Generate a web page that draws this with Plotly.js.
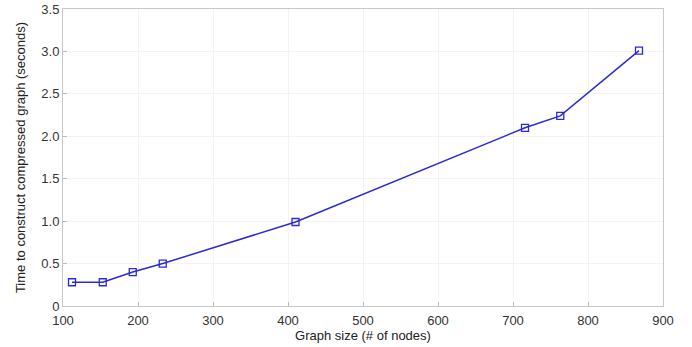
<!DOCTYPE html>
<html>
<head>
<meta charset="utf-8">
<script src="https://cdn.plot.ly/plotly-3.0.1.min.js"></script>
<style>html,body{margin:0;padding:0;background:#fff;}#chart{width:692px;height:347px;}</style>
</head>
<body>
<div id="chart"></div>
<script>
const graphSize = [112, 153, 193, 233, 410, 716, 763, 868];
const timeSeconds = [0.28, 0.28, 0.40, 0.50, 0.99, 2.10, 2.24, 3.01];
const xTickVals = [100, 200, 300, 400, 500, 600, 700, 800, 900];
const yTickVals = [0, 0.5, 1.0, 1.5, 2.0, 2.5, 3.0, 3.5];
const yTickText = ["0", "0.5", "1.0", "1.5", "2.0", "2.5", "3.0", "3.5"];

const trace = {
  x: graphSize,
  y: timeSeconds,
  mode: 'lines+markers',
  type: 'scatter',
  line: {color: '#2a2ad8', width: 1.5},
  marker: {symbol: 'square-open', size: 7, color: '#2a2ad8', line: {width: 1.3}}
};

const fontFam = 'Liberation Sans, Arial, sans-serif';
const axisCommon = {
  showline: true, mirror: true, linecolor: '#c8c8c8', linewidth: 1,
  ticks: 'inside', ticklen: 4, tickcolor: '#bbbbbb',
  showgrid: true, gridcolor: '#f3f3f3', zeroline: false,
  tickfont: {family: fontFam, size: 13, color: '#333333'}
};

const layout = {
  width: 692, height: 347,
  margin: {l: 63, r: 29, t: 9, b: 41},
  paper_bgcolor: '#ffffff', plot_bgcolor: '#ffffff',
  showlegend: false,
  xaxis: Object.assign({}, axisCommon, {
    range: [100, 900], tickvals: xTickVals, ticklabelstandoff: 2,
    title: {text: 'Graph size (# of nodes)', standoff: 1,
      font: {family: fontFam, size: 13, color: '#222222'}}
  }),
  yaxis: Object.assign({}, axisCommon, {
    range: [0, 3.5], tickvals: yTickVals, ticktext: yTickText,
    title: {text: 'Time to construct compressed graph (seconds)', standoff: 12,
      font: {family: fontFam, size: 13, color: '#222222'}}
  })
};

Plotly.newPlot('chart', [trace], layout, {displayModeBar: false, staticPlot: true});
</script>
</body>
</html>
